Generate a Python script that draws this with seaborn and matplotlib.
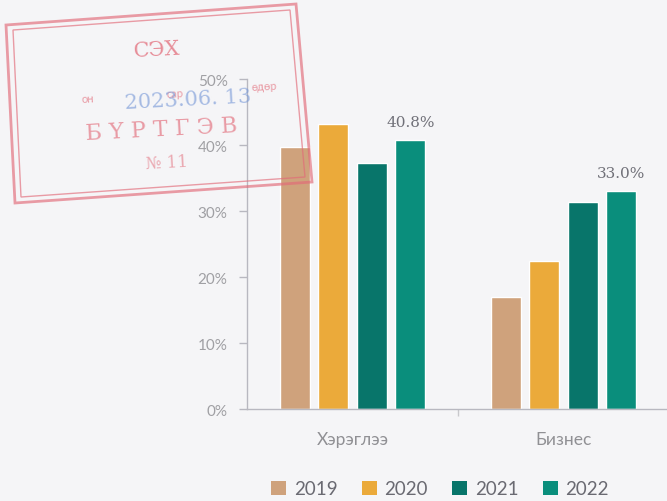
import matplotlib
matplotlib.use("Agg")
import matplotlib.pyplot as plt
import seaborn as sns
import pandas as pd
from matplotlib.patches import Polygon, Patch

categories = ["Хэрэглээ", "Бизнес"]
years = ["2019", "2020", "2021", "2022"]
v2019 = [39.7, 17.0]
v2020 = [43.2, 22.5]
v2021 = [37.2, 31.3]
v2022 = [40.8, 33.0]
yticks = [0, 10, 20, 30, 40, 50]
colors = ["#CFA27C", "#EBAA3A", "#08756A", "#0A8E7C"]

rows = []
for y, vals in zip(years, [v2019, v2020, v2021, v2022]):
    for c, v in zip(categories, vals):
        rows.append({"cat": c, "year": y, "val": v})
df = pd.DataFrame(rows)

sns.set_theme(style="white")
plt.rcParams["font.family"] = ["Lato", "DejaVu Sans"]
bg = "#F5F5F7"
fig = plt.figure(figsize=(6.67, 5.02), dpi=100, facecolor=bg)
ax = fig.add_axes([247/667, 1 - 410/502, 422/667, 330/502])
ax.set_facecolor(bg)

sns.barplot(data=df, x="cat", y="val", hue="year", palette=colors,
            width=0.73, gap=0.22, ax=ax, legend=False, saturation=1)

ax.set_ylim(0, 50)
ax.set_xlim(-0.5, 1.5)
ax.set_yticks(yticks)
ax.set_yticklabels([f"{t}%" for t in yticks], color="#A0A0A4", fontsize=11)
ax.set_xticks([0, 1])
ax.set_xticklabels(categories, color="#909094", fontsize=12.5)
ax.tick_params(axis="x", length=0, pad=16)
ax.tick_params(axis="y", length=6, width=1, color="#B8B8C0", pad=8, left=True)
ax.set_xticks([0.5], minor=True)
ax.tick_params(axis="x", which="minor", length=5, color="#C8C8CC", bottom=True)
for s in ["top", "right"]:
    ax.spines[s].set_visible(False)
for s in ["left", "bottom"]:
    ax.spines[s].set_color("#B8B8C0")
    ax.spines[s].set_linewidth(1)
ax.set_xlabel("")
ax.set_ylabel("")

# value labels on 2022 bars
bars2022 = ax.containers[3]
for rect, v in zip(bars2022, v2022):
    ax.annotate(f"{v:.1f}%", (rect.get_x() + rect.get_width() / 2, rect.get_height()),
                xytext=(0, 8), textcoords="offset points", ha="center", va="bottom",
                fontsize=11, color="#707078", family=["DejaVu Serif"])

handles = [Patch(facecolor=c, edgecolor="none") for c in colors]
fig.legend(handles, years, loc="center", bbox_to_anchor=(440/667, 1 - 490/502),
           ncol=4, frameon=False, fontsize=13.5, handlelength=0.8, handleheight=0.8,
           handletextpad=0.4, columnspacing=1.3, labelcolor="#6A6A72")

# registration stamp (scanned overlay)
W, H = 667, 502
def fp(x, y):
    return (x / W, 1 - y / H)
red = "#E26A78"
outer = [fp(6, 26), fp(296, 5), fp(312, 183), fp(15, 204)]
inner = [fp(13, 31), fp(290, 11), fp(305, 178), fp(21, 198)]
for pts, lw in [(outer, 2.0), (inner, 1.0)]:
    fig.add_artist(Polygon(pts, closed=True, fill=False, edgecolor=red, lw=lw,
                           alpha=0.65, transform=fig.transFigure))
rot = 3
stamp_font = ["DejaVu Serif"]
fig.text(*fp(157, 50), "СЭХ", color=red, fontsize=15, ha="center", va="center",
         rotation=rot, alpha=0.75, family=stamp_font)
fig.text(*fp(88, 99), "он", color=red, fontsize=8, ha="center", va="center",
         rotation=rot, alpha=0.65)
fig.text(*fp(175, 94), "сар", color=red, fontsize=8, ha="center", va="center",
         rotation=rot, alpha=0.65)
fig.text(*fp(264, 87), "өдөр", color=red, fontsize=8, ha="center", va="center",
         rotation=rot, alpha=0.65)
fig.text(*fp(188, 100), "2023.06. 13", color="#7A9AD8", fontsize=15, ha="center",
         va="center", rotation=rot, alpha=0.65, family=stamp_font)
fig.text(*fp(162, 130), "Б Ү Р Т Г Э В", color=red, fontsize=16, ha="center",
         va="center", rotation=rot, alpha=0.65, family=stamp_font)
fig.text(*fp(167, 163), "№ 11", color=red, fontsize=12, ha="center", va="center",
         rotation=rot, alpha=0.55, family=stamp_font)

fig.savefig("out.png", dpi=100, facecolor=bg)
